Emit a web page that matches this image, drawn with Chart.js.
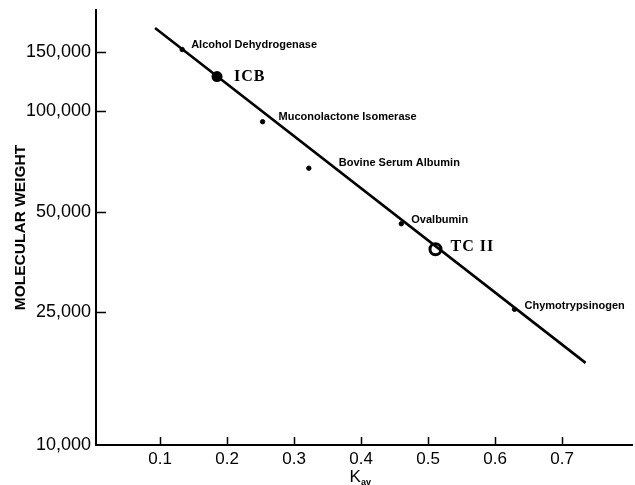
<!DOCTYPE html>
<html>
<head>
<meta charset="utf-8">
<script src="https://cdn.jsdelivr.net/npm/chart.js@4/dist/chart.umd.min.js"></script>
<style>
  html, body { margin: 0; padding: 0; background: #fff; overflow: hidden; }
  canvas { display: block; }
</style>
</head>
<body>
<!-- a few px wider than the window: Chart.js keeps ~9px free on the right -->
<canvas id="mw-chart" width="641" height="485"></canvas>
<script>
// Gel filtration calibration: Kav vs molecular weight (log scale)

const proteins = ['Alcohol Dehydrogenase', 'Muconolactone Isomerase', 'Bovine Serum Albumin', 'Ovalbumin', 'Chymotrypsinogen'];
const proteinKav = [0.133, 0.253, 0.322, 0.460, 0.629];
const proteinMW = [153000, 93000, 67500, 46000, 25500];

const unknowns = ['ICB', 'TC II'];
const unknownKav = [0.185, 0.511];
const unknownMW = [127000, 38600];

// fitted calibration line (end points)
const fitKav = [0.0925, 0.735];
const fitMW = [177600, 17620];

const xTicks = [0.1, 0.2, 0.3, 0.4, 0.5, 0.6, 0.7];
const yTicks = [10000, 25000, 50000, 100000, 150000];

// label offsets (px) from each point
const proteinLabelOffsets = [[9, -5], [16, -5], [30, -5], [10, -4], [10, -3]];
const unknownLabelOffsets = [[17, 0], [15, -2]];

Chart.defaults.font.family = '"Liberation Sans", Arial, sans-serif';
Chart.defaults.color = '#000';

const toXY = (xs, ys) => xs.map((x, i) => ({ x: x, y: ys[i] }));

// point labels drawn next to points
const pointLabels = {
  id: 'pointLabels',
  afterDatasetsDraw(chart) {
    const ctx = chart.ctx;
    ctx.save();
    ctx.fillStyle = '#000';
    ctx.textBaseline = 'middle';
    ctx.textAlign = 'left';
    chart.data.datasets.forEach((ds, di) => {
      if (!ds.labels) return;
      const meta = chart.getDatasetMeta(di);
      ctx.font = ds.labelFont;
      ctx.letterSpacing = ds.labelSpacing || '0px';
      meta.data.forEach((pt, i) => {
        const off = ds.labelOffsets[i];
        ctx.fillText(ds.labels[i], pt.x + off[0], pt.y + off[1]);
      });
    });
    ctx.restore();
  }
};

// inward tick marks + K_av axis title
const axisExtras = {
  id: 'axisExtras',
  afterDraw(chart) {
    const ctx = chart.ctx;
    const xs = chart.scales.x, ys = chart.scales.y;
    const area = chart.chartArea;
    ctx.save();
    ctx.strokeStyle = '#000';
    ctx.lineWidth = 1.5;
    ctx.beginPath();
    yTicks.forEach(v => {
      if (v === ys.min) return;
      const py = Math.round(ys.getPixelForValue(v)) + 0.5;
      ctx.moveTo(area.left, py);
      ctx.lineTo(area.left + 10, py);
    });
    xTicks.forEach(v => {
      const px = Math.round(xs.getPixelForValue(v)) + 0.5;
      ctx.moveTo(px, area.bottom);
      ctx.lineTo(px, area.bottom - 8);
    });
    ctx.stroke();

    // K with subscript "av"
    const cx = (area.left + area.right) / 2 - 4;
    ctx.fillStyle = '#000';
    ctx.textBaseline = 'alphabetic';
    ctx.font = '17px "Liberation Sans", Arial, sans-serif';
    const kw = ctx.measureText('K').width;
    ctx.font = 'bold 9px "Liberation Sans", Arial, sans-serif';
    const sw = ctx.measureText('av').width;
    const left = cx - (kw + sw) / 2;
    ctx.font = '17px "Liberation Sans", Arial, sans-serif';
    ctx.fillText('K', left, 482);
    ctx.font = 'bold 9px "Liberation Sans", Arial, sans-serif';
    ctx.fillText('av', left + kw, 485);
    ctx.restore();
  }
};

new Chart(document.getElementById('mw-chart'), {
  type: 'scatter',
  data: {
    datasets: [
      {
        type: 'line',
        data: toXY(fitKav, fitMW),
        borderColor: '#000',
        borderWidth: 2.6,
        pointRadius: 0,
        fill: false
      },
      {
        data: toXY(proteinKav, proteinMW),
        backgroundColor: '#000',
        borderColor: '#000',
        pointRadius: 2.2,
        labels: proteins,
        labelOffsets: proteinLabelOffsets,
        labelFont: 'bold 11px "Liberation Sans", Arial, sans-serif'
      },
      {
        // ICB filled, TC II ringed
        data: toXY(unknownKav, unknownMW),
        backgroundColor: ['#000', '#fff'],
        borderColor: '#000',
        borderWidth: [0, 3],
        pointRadius: 5.5,
        labels: unknowns,
        labelOffsets: unknownLabelOffsets,
        labelSpacing: '1px',
        labelFont: 'bold 16px "Liberation Serif", "Times New Roman", serif'
      },
      {
        // centre dot of the TC II symbol
        data: toXY(unknownKav.slice(1), unknownMW.slice(1)),
        backgroundColor: '#000',
        pointRadius: 2.4
      }
    ]
  },
  options: {
    responsive: false,
    animation: false,
    layout: { padding: { top: 10, right: 0, left: 0, bottom: 0 } },
    plugins: {
      legend: { display: false },
      tooltip: { enabled: false }
    },
    scales: {
      x: {
        type: 'linear',
        min: 0.0044,
        max: 0.805,
        afterBuildTicks: s => { s.ticks = xTicks.map(v => ({ value: v })); },
        afterFit: s => { s.height = 40; },
        grid: { display: false, drawTicks: false },
        border: { display: true, color: '#000', width: 2 },
        ticks: {
          padding: 4,
          font: { size: 17 },
          maxRotation: 0,
          callback: v => v.toFixed(1)
        }
      },
      y: {
        type: 'logarithmic',
        min: 10000,
        max: 201000,
        afterBuildTicks: s => { s.ticks = yTicks.map(v => ({ value: v })); },
        afterFit: s => { s.width = 96; s.paddingTop = 0; s.paddingBottom = 0; },
        grid: { display: false, drawTicks: false },
        border: { display: true, color: '#000', width: 2 },
        ticks: {
          padding: 5,
          font: { size: 18 },
          callback: v => v.toLocaleString('en-US')
        },
        title: {
          display: true,
          text: 'MOLECULAR WEIGHT',
          font: { size: 15.5, weight: 'bold' },
          padding: { top: 11, bottom: 0 }
        }
      }
    }
  },
  plugins: [pointLabels, axisExtras]
});
</script>
</body>
</html>
